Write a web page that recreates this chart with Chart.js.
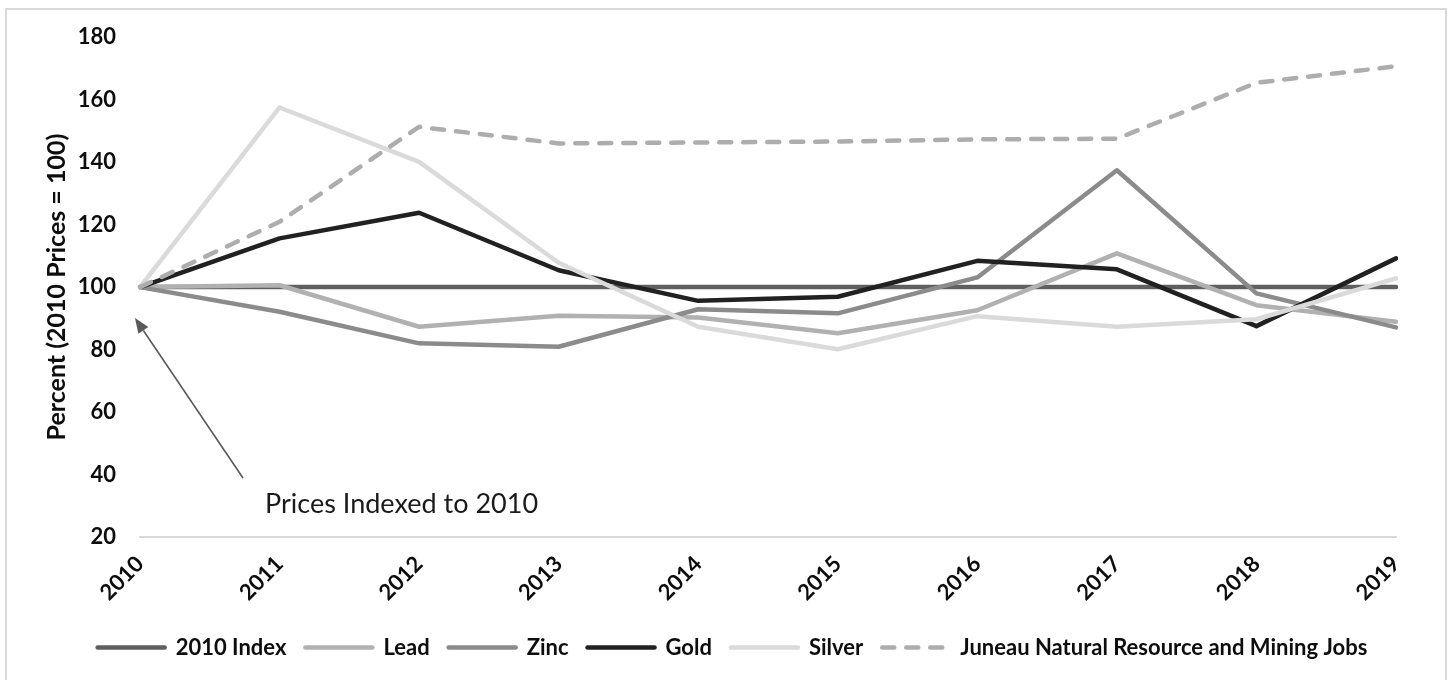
<!DOCTYPE html>
<html>
<head>
<meta charset="utf-8">
<title>Metal prices indexed to 2010 and Juneau mining jobs</title>
<script src="https://cdn.jsdelivr.net/npm/chart.js@4.4.1/dist/chart.umd.min.js"></script>
<style>
  html, body { margin: 0; padding: 0; background: #ffffff; }
  #wrap { position: relative; width: 1452px; height: 680px; overflow: hidden; background: #ffffff; }
  #frame { position: absolute; left: 5px; top: 8px; width: 1438px; height: 700px; border: 2px solid #d9d9d9; pointer-events: none; }
  canvas { position: absolute; left: 0; top: 0; }
</style>
</head>
<body>
<div id="wrap">
  <div id="frame"></div>
  <canvas id="chart" width="1452" height="680"></canvas>
</div>
<script>
// Years on the horizontal axis
const years = ['2010', '2011', '2012', '2013', '2014', '2015', '2016', '2017', '2018', '2019'];

// Annual values, 2010 = 100
const index2010 = [100, 100, 100, 100, 100, 100, 100, 100, 100, 100];
const lead      = [100, 100.6, 87.3, 90.8, 90.3, 85.2, 92.6, 110.8, 94.2, 88.9];
const zinc      = [100, 92.1, 82.0, 80.9, 92.9, 91.6, 103.1, 137.4, 98.0, 87.1];
const gold      = [100, 115.6, 123.8, 105.4, 95.6, 96.9, 108.4, 105.7, 87.5, 109.2];
const silver    = [100, 157.5, 140.1, 107.8, 87.3, 80.1, 90.7, 87.3, 89.7, 102.8];
const miningJobs = [100, 120.9, 151.3, 146.0, 146.3, 146.6, 147.3, 147.5, 165.4, 170.7];

// Y axis range and tick step
const yRange = [20, 180];
const yStep = 20;

// Callout: arrow (tail -> tip) and caption, in axis units (category index, percent)
const noteText = 'Prices Indexed to 2010';
const noteArrowTail = [0.738, 38.9];
const noteArrowTip = [-0.036, 90.1];
const noteTextAt = [0.896, 27.7];

const FONT = 'Lato';
const TEXT = '#0d0d0d';
const boldFont = { family: FONT, weight: 'bold', size: 22 };
const titleFont = { family: FONT, weight: 'bold', size: 25 };

const seriesDefs = [
  { label: '2010 Index', data: index2010, color: '#5f5f5f' },
  { label: 'Lead', data: lead, color: '#b1b1b1' },
  { label: 'Zinc', data: zinc, color: '#8b8b8b' },
  { label: 'Gold', data: gold, color: '#212121' },
  { label: 'Silver', data: silver, color: '#dadada' },
  { label: 'Juneau Natural Resource and Mining Jobs', data: miningJobs, color: '#adadad', dash: [12, 12] }
];

const datasets = seriesDefs.map((s, i) => ({
  label: s.label,
  data: s.data,
  borderColor: s.color,
  backgroundColor: s.color,
  borderWidth: 4.5,
  borderDash: s.dash || [],
  borderCapStyle: 'round',
  borderJoinStyle: 'round',
  pointRadius: 0,
  pointHoverRadius: 0,
  tension: 0,
  fill: false,
  // later series are painted above earlier ones
  order: seriesDefs.length - i
}));

// Arrow and caption drawn in data space
const calloutPlugin = {
  id: 'indexCallout',
  afterDatasetsDraw(chart) {
    const { ctx, scales: { x, y } } = chart;
    const tx = x.getPixelForValue(noteArrowTail[0]);
    const ty = y.getPixelForValue(noteArrowTail[1]);
    const hx = x.getPixelForValue(noteArrowTip[0]);
    const hy = y.getPixelForValue(noteArrowTip[1]);
    const ang = Math.atan2(hy - ty, hx - tx);
    const headLen = 15, headHalf = 6;
    const bx = hx - Math.cos(ang) * headLen;
    const by = hy - Math.sin(ang) * headLen;
    ctx.save();
    ctx.strokeStyle = '#595959';
    ctx.fillStyle = '#595959';
    ctx.lineWidth = 1.6;
    ctx.beginPath();
    ctx.moveTo(tx, ty);
    ctx.lineTo(bx, by);
    ctx.stroke();
    ctx.beginPath();
    ctx.moveTo(hx, hy);
    ctx.lineTo(bx + Math.sin(ang) * headHalf, by - Math.cos(ang) * headHalf);
    ctx.lineTo(bx - Math.sin(ang) * headHalf, by + Math.cos(ang) * headHalf);
    ctx.closePath();
    ctx.fill();

    ctx.font = '27px ' + FONT;
    ctx.fillStyle = '#1a1a1a';
    ctx.textAlign = 'left';
    ctx.textBaseline = 'alphabetic';
    ctx.fillText(noteText, x.getPixelForValue(noteTextAt[0]), y.getPixelForValue(noteTextAt[1]));
    ctx.restore();
  }
};

// Let the legend row span the canvas so it centres under the whole chart
const legendSpanPlugin = {
  id: 'legendSpan',
  afterLayout(chart) {
    const lg = chart.legend;
    if (lg) { lg.left = 13; lg.right = chart.width; }
  }
};

new Chart(document.getElementById('chart'), {
  type: 'line',
  data: { labels: years, datasets },
  plugins: [calloutPlugin, legendSpanPlugin],
  options: {
    responsive: false,
    animation: false,
    devicePixelRatio: 1,
    layout: { padding: { top: 37, right: 56, bottom: 11.5, left: 0 } },
    scales: {
      x: {
        offset: false,
        grid: { display: false, drawTicks: false },
        border: { display: true, color: '#d9d9d9', width: 2 },
        ticks: { autoSkip: false, minRotation: 45, maxRotation: 45, padding: 14, color: TEXT, font: boldFont },
        afterFit(scale) { scale.height = 80.5; }
      },
      y: {
        min: yRange[0],
        max: yRange[1],
        grid: { display: false, drawTicks: false },
        border: { display: false },
        ticks: { stepSize: yStep, padding: 24, color: TEXT, font: boldFont },
        title: {
          display: true,
          text: 'Percent (2010 Prices = 100)',
          color: TEXT,
          font: titleFont,
          padding: { top: 42, bottom: 0 }
        },
        afterFit(scale) { scale.width = 140; }
      }
    },
    plugins: {
      tooltip: { enabled: false },
      legend: {
        position: 'bottom',
        labels: {
          usePointStyle: true,
          pointStyle: 'line',
          pointStyleWidth: 67,
          padding: 19,
          color: TEXT,
          font: boldFont,
          sort: (a, b) => a.datasetIndex - b.datasetIndex,
          generateLabels(chart) {
            const items = Chart.defaults.plugins.legend.labels.generateLabels(chart);
            items.forEach(it => {
              const ds = chart.data.datasets[it.datasetIndex];
              it.strokeStyle = ds.borderColor;
              it.fillStyle = ds.borderColor;
              it.lineWidth = ds.borderWidth;
              it.lineDash = ds.borderDash;
              it.lineCap = ds.borderCapStyle;
            });
            return items;
          }
        }
      }
    }
  }
});
</script>
</body>
</html>
